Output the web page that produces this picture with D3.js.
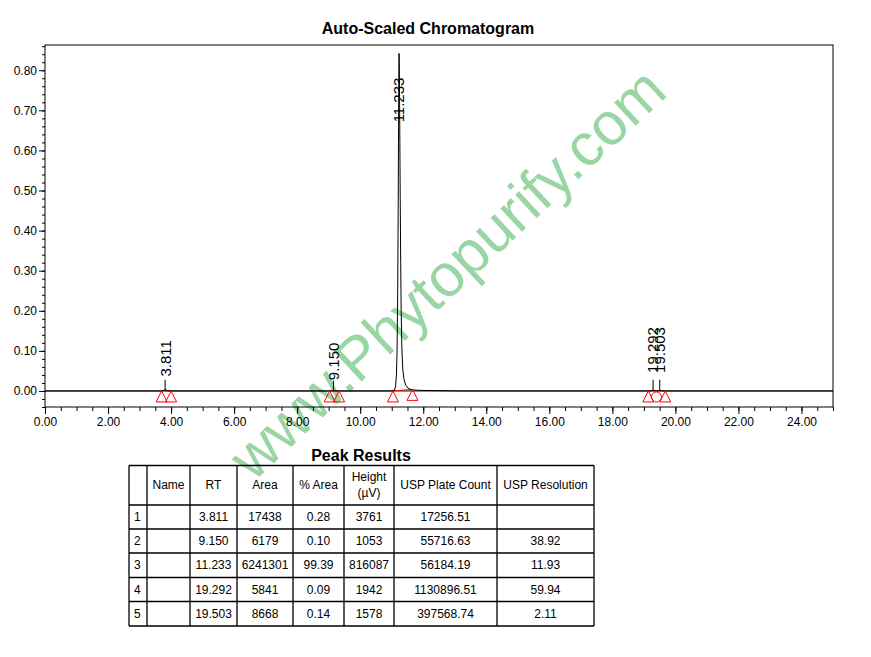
<!DOCTYPE html>
<html>
<head>
<meta charset="utf-8">
<script src="https://cdn.jsdelivr.net/npm/d3@7"></script>
<style>
  html, body { margin: 0; padding: 0; background: #fff; }
  svg { display: block; font-family: "Liberation Sans", Arial, sans-serif; }
</style>
</head>
<body>
<svg id="chart" width="871" height="657"></svg>
<script>
// ---------- DATA ----------
// Chromatogram trace: retention time (min) and response (AU)
const traceTime = [0, 3.60, 3.70, 3.76, 3.79, 3.811, 3.83, 3.87, 3.95, 4.05,
  9.00, 9.08, 9.12, 9.150, 9.18, 9.24, 9.32,
  10.90, 11.00, 11.08, 11.12, 11.15, 11.17, 11.19, 11.205, 11.215, 11.225, 11.233,
  11.242, 11.255, 11.27, 11.285, 11.30, 11.32, 11.35, 11.39, 11.45, 11.52, 11.60, 11.70, 11.90, 12.50, 13.20,
  19.10, 19.20, 19.26, 19.292, 19.33, 19.40, 19.46, 19.503, 19.55, 19.62, 19.75, 25.0];
const traceValue = [0, 0, 0.0002, 0.0015, 0.0032, 0.0038, 0.0032, 0.0012, 0.0003, 0,
  0, 0.0002, 0.0006, 0.00105, 0.0006, 0.0002, 0,
  0, 0.0003, 0.002, 0.010, 0.040, 0.10, 0.25, 0.45, 0.62, 0.78, 0.842,
  0.80, 0.66, 0.48, 0.32, 0.20, 0.11, 0.055, 0.028, 0.014, 0.007, 0.004, 0.0025, 0.0015, 0.0008, 0,
  0, 0.0004, 0.0012, 0.0019, 0.0010, 0.0005, 0.0010, 0.0016, 0.0009, 0.0002, 0, 0];

// Integrated peaks
const peakRT = [3.811, 9.150, 11.233, 19.292, 19.503];
const peakLabels = ["3.811", "9.150", "11.233", "19.292", "19.503"];
const peakLabelLevel = [0.036, 0.027, 0.67, 0.045, 0.045]; // where the label starts (AU)
const peakTickTop = [0.028, 0.026, null, 0.028, 0.028];    // top of the small marker line (AU)

// Baseline start / end markers (triangles) and valley marker (circle)
const markerTime = [3.70, 4.00, 9.03, 9.33, 11.04, 11.66, 19.14, 19.68];
const markerLevel = [0, 0, 0, 0, 0, 0.004, 0, 0];
const valleyTime = [19.40];
const baselineSegStart = [3.70, 9.03, 11.04, 19.14];
const baselineSegEnd = [4.00, 9.33, 11.66, 19.68];
const baselineSegStartLevel = [0, 0, 0, 0];
const baselineSegEndLevel = [0, 0, 0.004, 0];

// Axis ticks
const xMajorTicks = [0, 2, 4, 6, 8, 10, 12, 14, 16, 18, 20, 22, 24];
const yMajorTicks = [0, 0.1, 0.2, 0.3, 0.4, 0.5, 0.6, 0.7, 0.8];

// Peak results table
const tableHeader = ["", "Name", "RT", "Area", "% Area", "Height\n(µV)", "USP Plate Count", "USP Resolution"];
const colRow = ["1", "2", "3", "4", "5"];
const colName = ["", "", "", "", ""];
const colRT = ["3.811", "9.150", "11.233", "19.292", "19.503"];
const colArea = ["17438", "6179", "6241301", "5841", "8668"];
const colPctArea = ["0.28", "0.10", "99.39", "0.09", "0.14"];
const colHeight = ["3761", "1053", "816087", "1942", "1578"];
const colPlate = ["17256.51", "55716.63", "56184.19", "1130896.51", "397568.74"];
const colRes = ["", "38.92", "11.93", "59.94", "2.11"];

// ---------- DRAW ----------
const svg = d3.select("#chart");
const L = 45, R = 833, T = 45, B = 407;
const x = d3.scaleLinear().domain([0, 25]).range([L, R]);
const y = d3.scaleLinear().domain([-0.04, 0.863]).range([B, T]);

// ---------- WATERMARK (behind) ----------
svg.append("text").attr("transform", "translate(447,273) rotate(-43)")
  .attr("text-anchor", "middle").attr("dy", "0.35em")
  .attr("font-size", 60).attr("fill", "#9ad6a4").text("www.Phytopurify.com");

// title
svg.append("text").attr("x", 428).attr("y", 34).attr("text-anchor", "middle")
  .attr("font-size", 16).attr("font-weight", "bold").text("Auto-Scaled Chromatogram");

// frame
svg.append("rect").attr("x", L).attr("y", T).attr("width", R - L).attr("height", B - T)
  .attr("fill", "none").attr("stroke", "#000").attr("stroke-width", 1);

// y axis
const yMinor = d3.range(-0.04, 0.861, 0.02).map(v => +v.toFixed(2));
svg.append("g").attr("transform", `translate(${L},0)`)
  .call(d3.axisLeft(y).tickValues(yMinor).tickSize(3).tickFormat(""))
  .call(g => g.select(".domain").remove());
const gy = svg.append("g").attr("transform", `translate(${L},0)`)
  .call(d3.axisLeft(y).tickValues(yMajorTicks).tickSize(6).tickPadding(2).tickFormat(d3.format(".2f")));
gy.select(".domain").remove();
gy.selectAll("text").attr("font-size", 12).attr("font-family", "Liberation Sans, Arial, sans-serif").attr("fill", "#000");

// x axis
const xMinor = d3.range(0, 25.01, 0.5);
svg.append("g").attr("transform", `translate(0,${B})`)
  .call(d3.axisBottom(x).tickValues(xMinor).tickSize(4).tickFormat(""))
  .call(g => g.select(".domain").remove());
const gx = svg.append("g").attr("transform", `translate(0,${B})`)
  .call(d3.axisBottom(x).tickValues(xMajorTicks).tickSize(7).tickPadding(3).tickFormat(d3.format(".2f")));
gx.select(".domain").remove();
gx.selectAll("text").attr("font-size", 12).attr("font-family", "Liberation Sans, Arial, sans-serif").attr("fill", "#000");

// zero line
svg.append("line").attr("x1", L).attr("x2", R).attr("y1", y(0)).attr("y2", y(0))
  .attr("stroke", "#000").attr("stroke-width", 1);

// red baseline segments
baselineSegStart.forEach((s, i) => {
  svg.append("line").attr("x1", x(s)).attr("y1", y(baselineSegStartLevel[i]))
    .attr("x2", x(baselineSegEnd[i])).attr("y2", y(baselineSegEndLevel[i]))
    .attr("stroke", "#ff0000").attr("stroke-width", 1);
});

// trace
const traceData = traceTime.map((t, i) => [t, traceValue[i]]);
svg.append("path").datum(traceData)
  .attr("d", d3.line().x(d => x(d[0])).y(d => y(d[1])))
  .attr("fill", "none").attr("stroke", "#000").attr("stroke-width", 1);

// triangles
markerTime.forEach((t, i) => {
  const cx = x(t), cy = y(markerLevel[i]);
  svg.append("path").attr("d", `M${cx},${cy} L${cx - 5.5},${cy + 11} L${cx + 5.5},${cy + 11} Z`)
    .attr("fill", "none").attr("stroke", "#ff0000").attr("stroke-width", 1);
});
valleyTime.forEach(t => {
  svg.append("circle").attr("cx", x(t)).attr("cy", y(0) + 6).attr("r", 5)
    .attr("fill", "none").attr("stroke", "#ff0000").attr("stroke-width", 1);
});

// peak labels
peakRT.forEach((rt, i) => {
  const px = x(rt);
  if (peakTickTop[i] !== null) {
    svg.append("line").attr("x1", px).attr("x2", px).attr("y1", y(0)).attr("y2", y(peakTickTop[i]))
      .attr("stroke", "#000").attr("stroke-width", 1);
  }
  svg.append("text").attr("transform", `translate(${px},${y(peakLabelLevel[i])}) rotate(-90)`)
    .attr("dy", "0.36em").attr("font-size", 15).attr("fill", "#000").text(peakLabels[i]);
});

// ---------- TABLE ----------
svg.append("text").attr("x", 361).attr("y", 461).attr("text-anchor", "middle")
  .attr("font-size", 16).attr("font-weight", "bold").text("Peak Results");

const colX = [129, 147, 190, 237, 293, 344, 394, 497, 594];
const rowY = [465.5, 505, 529, 553, 577.5, 601.5, 626];
const tg = svg.append("g");
colX.forEach(cx => tg.append("line").attr("x1", cx).attr("x2", cx).attr("y1", rowY[0]).attr("y2", rowY[rowY.length - 1])
  .attr("stroke", "#000").attr("stroke-width", 1.3));
rowY.forEach(ry => tg.append("line").attr("x1", colX[0]).attr("x2", colX[colX.length - 1]).attr("y1", ry).attr("y2", ry)
  .attr("stroke", "#000").attr("stroke-width", 1.3));

tableHeader.forEach((h, c) => {
  const cx = (colX[c] + colX[c + 1]) / 2;
  const lines = h.split("\n");
  const cy = (rowY[0] + rowY[1]) / 2;
  lines.forEach((ln, k) => {
    tg.append("text").attr("x", cx).attr("y", cy + (k - (lines.length - 1) / 2) * 16).attr("dy", "0.35em")
      .attr("text-anchor", "middle").attr("font-size", 12).text(ln);
  });
});
const cols = [colRow, colName, colRT, colArea, colPctArea, colHeight, colPlate, colRes];
cols.forEach((col, c) => {
  col.forEach((v, r) => {
    const cy = (rowY[r + 1] + rowY[r + 2]) / 2;
    const t = tg.append("text").attr("y", cy).attr("dy", "0.35em").attr("font-size", 12).text(v);
    if (c === 0) t.attr("x", colX[0] + 5).attr("text-anchor", "start");
    else t.attr("x", (colX[c] + colX[c + 1]) / 2).attr("text-anchor", "middle");
  });
});
</script>
</body>
</html>
